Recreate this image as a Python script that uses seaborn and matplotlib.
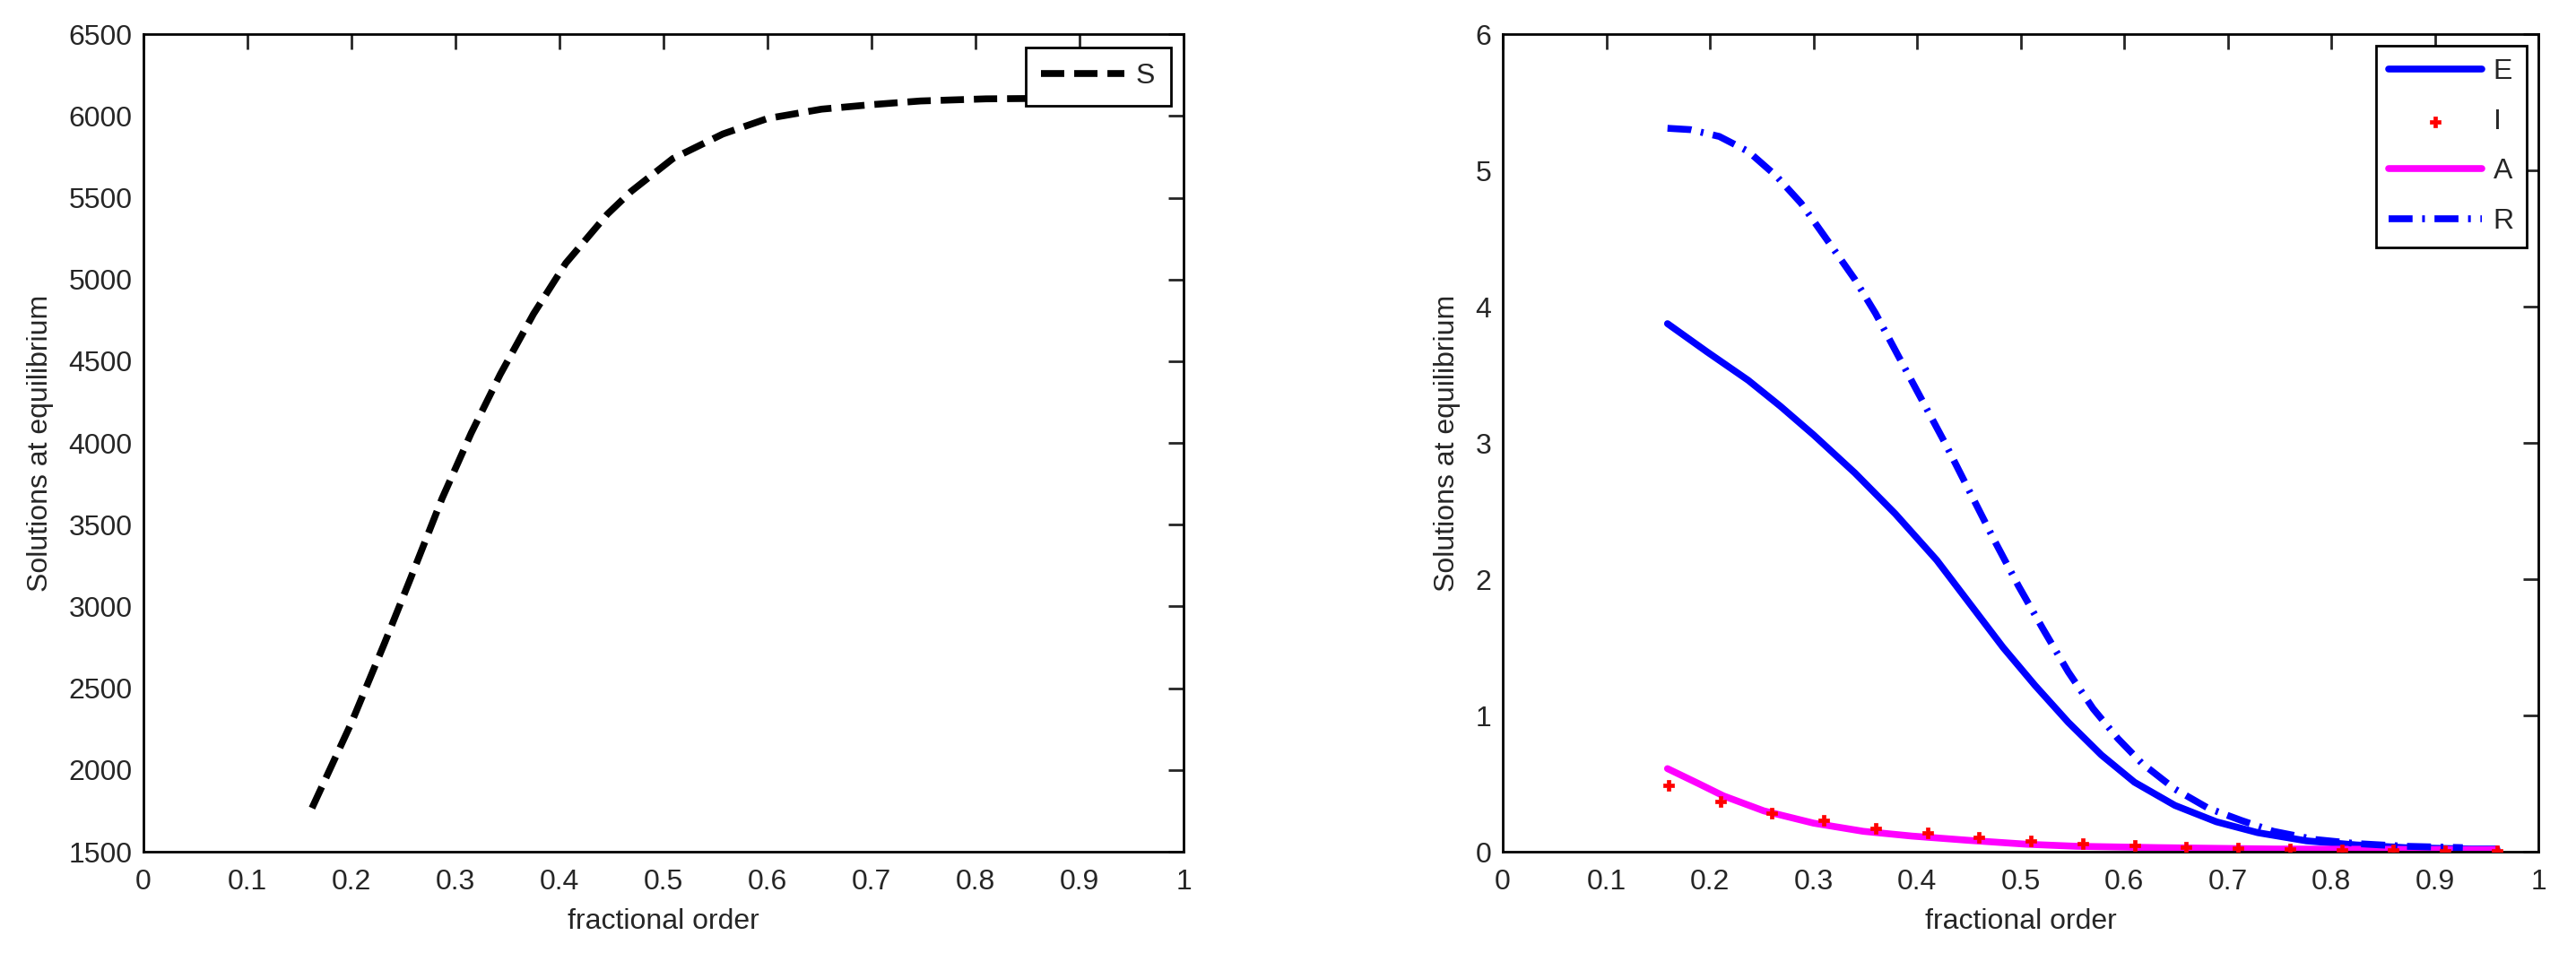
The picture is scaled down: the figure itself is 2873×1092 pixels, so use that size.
import numpy as np
import pandas as pd
import seaborn as sns
import matplotlib.pyplot as plt

# left panel: S
s_order = [0.162, 0.2, 0.232, 0.256, 0.287, 0.315, 0.343, 0.375, 0.406, 0.446, 0.469,
           0.509, 0.557, 0.6, 0.652, 0.699, 0.747, 0.81, 0.87, 0.96]
s_vals = [1767, 2290, 2780, 3160, 3660, 4060, 4420, 4790, 5100, 5400, 5540,
          5740, 5890, 5985, 6042, 6069, 6092, 6105, 6108, 6110]

# right panel: E, I, A, R
e_order = [0.159, 0.197, 0.237, 0.268, 0.3, 0.34, 0.379, 0.419, 0.451, 0.483, 0.514,
           0.546, 0.578, 0.61, 0.649, 0.689, 0.729, 0.776, 0.824, 0.871, 0.935, 0.96]
e_vals = [3.876, 3.67, 3.46, 3.27, 3.06, 2.78, 2.48, 2.14, 1.82, 1.50, 1.22,
          0.95, 0.71, 0.51, 0.34, 0.22, 0.14, 0.08, 0.05, 0.03, 0.02, 0.02]
r_order = [0.159, 0.181, 0.209, 0.237, 0.264, 0.288, 0.316, 0.34, 0.36, 0.379, 0.403,
           0.427, 0.451, 0.475, 0.498, 0.522, 0.546, 0.57, 0.594, 0.617, 0.649, 0.681,
           0.713, 0.744, 0.784, 0.824, 0.871, 0.927]
r_vals = [5.31, 5.3, 5.25, 5.14, 4.96, 4.76, 4.46, 4.2, 3.95, 3.68, 3.34,
          3.0, 2.64, 2.28, 1.95, 1.63, 1.32, 1.05, 0.83, 0.65, 0.46, 0.32,
          0.23, 0.15, 0.09, 0.06, 0.04, 0.03]
a_order = [0.159, 0.189, 0.213, 0.252, 0.3, 0.348, 0.395, 0.451, 0.506, 0.554, 0.633,
           0.744, 0.959]
a_vals = [0.61, 0.5, 0.41, 0.3, 0.21, 0.15, 0.115, 0.083, 0.055, 0.04, 0.03,
          0.02, 0.015]
i_order = [0.16, 0.21, 0.26, 0.31, 0.36, 0.41, 0.46, 0.51, 0.56, 0.61, 0.66, 0.71,
           0.76, 0.81, 0.86, 0.91, 0.96]
i_vals = [0.49, 0.37, 0.28, 0.23, 0.17, 0.14, 0.105, 0.08, 0.06, 0.045, 0.035, 0.025,
          0.02, 0.015, 0.012, 0.01, 0.01]

xtick_labels = ["0", "0.1", "0.2", "0.3", "0.4", "0.5", "0.6", "0.7", "0.8", "0.9", "1"]

sns.set_style("white")
plt.rcParams["font.family"] = ["Liberation Sans", "DejaVu Sans"]
plt.rcParams["xtick.direction"] = "in"
plt.rcParams["ytick.direction"] = "in"

fig = plt.figure(figsize=(28.73, 10.92), dpi=100)
ax1 = fig.add_axes([0.0557, 0.130, 0.4038, 0.835])
ax2 = fig.add_axes([0.5834, 0.130, 0.4020, 0.835])

fs = 23
lw = 5.5

sns.lineplot(x=s_order, y=s_vals, ax=ax1, color="black", linewidth=lw,
             linestyle=(0, (3.4, 1.45)), label="S")
ax1.set_xlim(0, 1)
ax1.set_ylim(1500, 6500)
ax1.set_yticks(np.arange(1500, 6501, 500))
ax1.legend(loc="upper right", fontsize=fs, handlelength=2.9, handletextpad=0.4,
           frameon=True, fancybox=False, edgecolor="black", framealpha=1,
           borderaxespad=0.45, borderpad=0.55)

sns.lineplot(x=e_order, y=e_vals, ax=ax2, color="#0000ff", linewidth=lw, label="E")
sns.scatterplot(x=i_order, y=i_vals, ax=ax2, color="red", marker="P", s=70,
                edgecolor="red", linewidth=0.5, label="I", zorder=3)
sns.lineplot(x=a_order, y=a_vals, ax=ax2, color="#ff00ff", linewidth=lw, label="A")
sns.lineplot(x=r_order, y=r_vals, ax=ax2, color="#0000ff", linewidth=lw,
             linestyle=(0, (3.5, 1.4, 0.4, 1.4)), label="R")
ax2.set_xlim(0, 1)
ax2.set_ylim(0, 6)
ax2.set_yticks(range(0, 7))
ax2.legend(loc="upper right", fontsize=fs, handlelength=3.25, handletextpad=0.4,
           labelspacing=0.8, frameon=True, fancybox=False, edgecolor="black",
           framealpha=1, borderaxespad=0.4, borderpad=0.45)

for ax in (ax1, ax2):
    ax.set_xticks(np.arange(0, 1.01, 0.1))
    ax.set_xticklabels(xtick_labels)
    ax.set_xlabel("fractional order", fontsize=fs, labelpad=10)
    ax.set_ylabel("Solutions at equilibrium", fontsize=fs, labelpad=12)
    ax.tick_params(labelsize=fs, length=12, width=2, top=True, right=True)
    ax.tick_params(axis="x", pad=14)
    ax.tick_params(axis="y", pad=9)
    for sp in ax.spines.values():
        sp.set_visible(True)
        sp.set_color("black")
        sp.set_linewidth(2)
    ax.get_legend().get_frame().set_linewidth(2)

fig.savefig("out.png", dpi=100, facecolor="white")
